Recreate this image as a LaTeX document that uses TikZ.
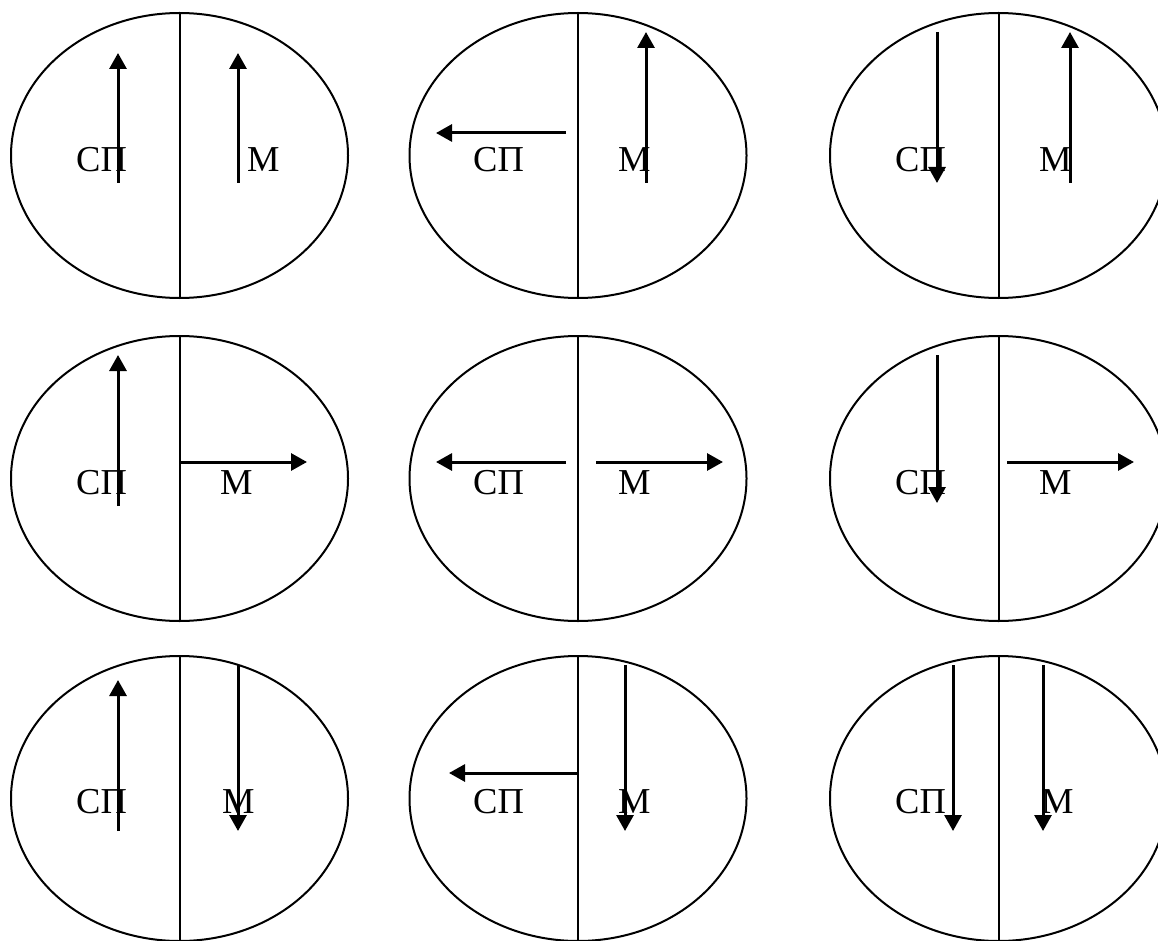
\documentclass[tikz,border=0pt]{standalone}
\usepackage{fontspec}
\setmainfont{Liberation Serif}
\usetikzlibrary{shapes.geometric,arrows.meta}
\begin{document}
\begin{tikzpicture}[x=1pt,y=-1pt,
  cell/.style={draw,ellipse,line width=2pt,minimum width=337pt,minimum height=285pt,inner sep=0pt,outer sep=0pt},
  divider/.style={line width=2pt},
  vec/.style={line width=3pt,-{Triangle[length=16pt,width=17pt]}},
  lbl/.style={anchor=base west,inner sep=0pt,font=\fontsize{36.5}{40}\selectfont}]
\useasboundingbox (0,0) rectangle (1158,941);
% ellipses
\node[cell] (e11) at (179.5,155.5) {};
\node[cell] (e12) at (578,155.5) {};
\node[cell] (e13) at (998.5,155.5) {};
\node[cell] (e21) at (179.5,478.5) {};
\node[cell] (e22) at (578,478.5) {};
\node[cell] (e23) at (998.5,478.5) {};
\node[cell] (e31) at (179.5,798.5) {};
\node[cell] (e32) at (578,798.5) {};
\node[cell] (e33) at (998.5,798.5) {};
\foreach \e in {e11,e12,e13,e21,e22,e23,e31,e32,e33}
  \draw[divider] (\e.north) -- (\e.south);
% labels
\node[lbl] (s11) at (76,172) {СП};  \node[lbl] (m11) at (247,172) {М};
\node[lbl] (s12) at (473,172) {СП}; \node[lbl] (m12) at (618,172) {М};
\node[lbl] (s13) at (895,172) {СП}; \node[lbl] (m13) at (1039,172) {М};
\node[lbl] (s21) at (76,494) {СП};  \node[lbl] (m21) at (220,494) {М};
\node[lbl] (s22) at (473,494) {СП}; \node[lbl] (m22) at (618,494) {М};
\node[lbl] (s23) at (895,494) {СП}; \node[lbl] (m23) at (1039,494) {М};
\node[lbl] (s31) at (76,813) {СП};  \node[lbl] (m31) at (222,813) {М};
\node[lbl] (s32) at (473,813) {СП}; \node[lbl] (m32) at (618,813) {М};
\node[lbl] (s33) at (895,813) {СП}; \node[lbl] (m33) at (1041,813) {М};
% arrows row 1
\draw[vec] (118,183) -- (118,53);
\draw[vec] (238,183) -- (238,53);
\draw[vec] (566,133) -- (436,133);
\draw[vec] (646,183) -- (646,32);
\draw[vec] (937,32) -- (937,183);
\draw[vec] (1070,183) -- (1070,32);
% arrows row 2
\draw[vec] (118,506) -- (118,355);
\coordinate (o21) at (179.5,462);
\draw[vec] (o21) -- (307,462);
\draw[vec] (566,462) -- (436,462);
\draw[vec] (596,462) -- (723,462);
\draw[vec] (937,355) -- (937,503);
\draw[vec] (1007,462) -- (1134,462);
% arrows row 3
\draw[vec] (118,831) -- (118,680);
\draw[vec] (238,665) -- (238,831);
\coordinate (o32) at (578,773);
\draw[vec] (o32) -- (449,773);
\draw[vec] (625,665) -- (625,831);
\draw[vec] (953,665) -- (953,831);
\draw[vec] (1043,665) -- (1043,831);
\end{tikzpicture}
\end{document}
